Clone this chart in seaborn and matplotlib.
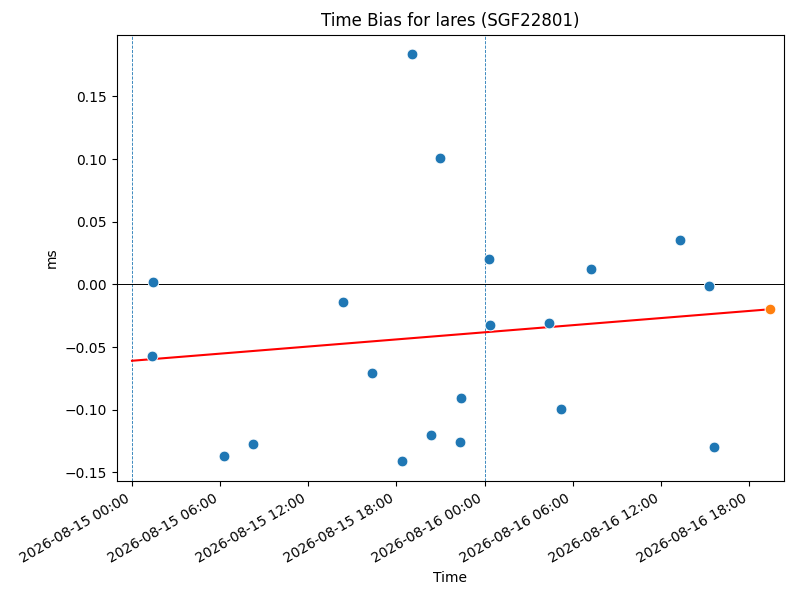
import pandas as pd
import numpy as np
import seaborn as sns
import matplotlib
matplotlib.use("Agg")
import matplotlib.pyplot as plt
import matplotlib.dates as mdates

# observed time bias per pass
times = ["2026-08-15 01:26", "2026-08-15 01:22", "2026-08-15 06:15", "2026-08-15 08:13",
         "2026-08-15 14:22", "2026-08-15 16:21", "2026-08-15 18:22", "2026-08-15 19:02",
         "2026-08-15 20:21", "2026-08-15 20:59", "2026-08-15 22:23", "2026-08-15 22:19",
         "2026-08-16 00:18", "2026-08-16 00:22", "2026-08-16 04:25", "2026-08-16 05:12",
         "2026-08-16 07:14", "2026-08-16 13:20", "2026-08-16 15:18", "2026-08-16 15:38"]
bias_ms = [0.0016, -0.057, -0.1367, -0.127, -0.0141, -0.0706, -0.141, 0.184,
           -0.120, 0.101, -0.091, -0.126, 0.0203, -0.0327, -0.0311, -0.0993,
           0.0123, 0.0356, -0.0016, -0.1298]

# predicted point and trend line
pred_time = "2026-08-16 19:26"
pred_bias = -0.0198
trend_times = ["2026-08-15 00:00", pred_time]
trend_bias = [-0.0609, pred_bias]

day_marks = ["2026-08-15 00:00", "2026-08-16 00:00"]
x_range = ["2026-08-14 22:58", "2026-08-16 20:23"]
y_range = [-0.157, 0.1992]

df = pd.DataFrame({"Time": pd.to_datetime(times), "ms": bias_ms})

fig, ax = plt.subplots(figsize=(8, 6), dpi=100)

for d in day_marks:
    ax.axvline(pd.Timestamp(d), color="C0", linestyle="--", linewidth=0.6)
ax.axhline(0, color="black", linewidth=0.7)

ax.plot(pd.to_datetime(trend_times), trend_bias, color="red", linewidth=1.5)
sns.scatterplot(data=df, x="Time", y="ms", ax=ax, color="C0", s=60, zorder=3)
ax.scatter([pd.Timestamp(pred_time)], [pred_bias], color="C1", s=60,
           edgecolor="white", linewidth=0.75, zorder=3)

ax.set_xlim(pd.Timestamp(x_range[0]), pd.Timestamp(x_range[1]))
ax.set_ylim(y_range)
ax.xaxis.set_major_locator(mdates.HourLocator(byhour=[0, 6, 12, 18]))
ax.xaxis.set_major_formatter(mdates.DateFormatter("%Y-%m-%d %H:%M"))
fig.autofmt_xdate()

ax.set_title("Time Bias for lares (SGF22801)")
ax.set_xlabel("Time")
ax.set_ylabel("ms")

plt.subplots_adjust(left=0.146, right=0.98, top=0.942, bottom=0.198)
plt.savefig("out.png")
